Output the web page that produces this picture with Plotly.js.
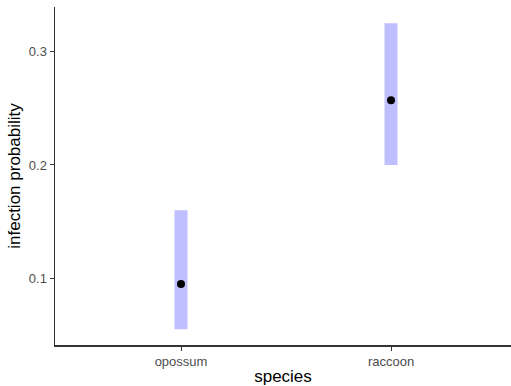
<!DOCTYPE html>
<html>
<head>
<meta charset="utf-8">
<script src="https://cdn.plot.ly/plotly-3.0.1.min.js"></script>
<style>html,body{margin:0;padding:0;background:#fff;}#chart{width:511px;height:386px;}</style>
</head>
<body>
<div id="chart"></div>
<script>
const species = ["opossum", "raccoon"];
const estimate = [0.095, 0.257];
const lower = [0.055, 0.200];
const upper = [0.160, 0.325];
const yTicks = [0.1, 0.2, 0.3];
const yTickLabels = ["0.1", "0.2", "0.3"];

const band = {
  type: "bar",
  x: species,
  base: lower,
  y: upper.map((u, i) => u - lower[i]),
  width: 0.062,
  marker: {color: "rgb(191,191,255)", line: {width: 0}},
  hoverinfo: "skip",
  showlegend: false
};
const pts = {
  type: "scatter",
  mode: "markers",
  x: species,
  y: estimate,
  marker: {color: "#000", size: 8},
  showlegend: false
};

const layout = {
  width: 511, height: 386,
  margin: {l: 55, r: 0, t: 7, b: 41},
  paper_bgcolor: "#fff", plot_bgcolor: "#fff",
  font: {family: "Liberation Sans, Arial, sans-serif", color: "#4d4d4d", size: 13},
  showlegend: false,
  xaxis: {
    type: "category",
    range: [-0.6, 1.5714],
    showgrid: false, zeroline: false,
    showline: true, linecolor: "#333", linewidth: 1.5,
    ticks: "outside", ticklen: 4, tickcolor: "#333", tickwidth: 1,
    tickfont: {size: 13, color: "#4d4d4d"},
    title: {text: "species", font: {size: 17, color: "#000"}, standoff: 3}
  },
  yaxis: {
    range: [0.0411, 0.3394],
    tickvals: yTicks, ticktext: yTickLabels,
    showgrid: false, zeroline: false,
    showline: true, linecolor: "#333", linewidth: 1.5,
    ticks: "outside", ticklen: 4, tickcolor: "#333", tickwidth: 1,
    tickfont: {size: 13, color: "#4d4d4d"},
    title: {text: "infection probability", font: {size: 17, color: "#000"}, standoff: 4}
  }
};

Plotly.newPlot("chart", [band, pts], layout, {displayModeBar: false, staticPlot: true});
</script>
</body>
</html>
